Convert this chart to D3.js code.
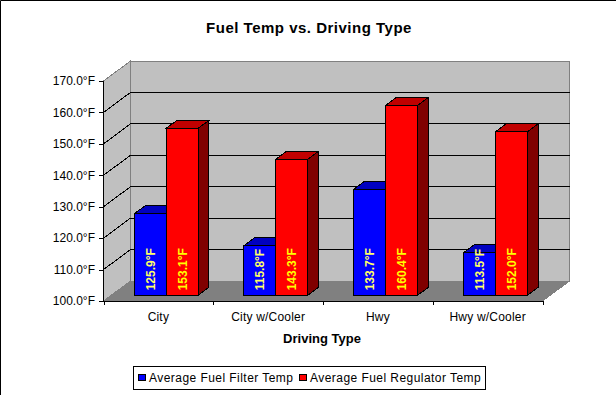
<!DOCTYPE html>
<html>
<head>
<meta charset="utf-8">
<script src="https://cdnjs.cloudflare.com/ajax/libs/d3/7.8.5/d3.min.js"></script>
<style>
html,body{margin:0;padding:0;background:#fff;overflow:hidden}
svg{display:block}
text{font-family:"Liberation Sans",Arial,sans-serif;fill:#000}
</style>
</head>
<body>
<script>
const categories = ["City", "City w/Cooler", "Hwy", "Hwy w/Cooler"];
const seriesNames = ["Average Fuel Filter Temp", "Average Fuel Regulator Temp"];
const filterTemp = [125.9, 115.8, 133.7, 113.5];
const regulatorTemp = [153.1, 143.3, 160.4, 152.0];
const tickValues = [100, 110, 120, 130, 140, 150, 160, 170];
const title = "Fuel Temp vs. Driving Type";
const xTitle = "Driving Type";

const W = 616, H = 395;
const svg = d3.select("body").append("svg").attr("width", W).attr("height", H);

svg.append("path").attr("d", `M0.5,${H}V0.5H${W}`).attr("fill", "none").attr("stroke", "#000");

const x0 = d3.scaleBand().domain(categories).range([103.5, 542.5]).paddingInner(0.417).paddingOuter(0.2085);
const x1 = d3.scaleBand().domain([0, 1]).range([0, x0.bandwidth()]);
const y = d3.scaleLinear().domain([100, 170]).range([301, 81]);

// oblique depth: z 0 = front of floor, 1 = back wall
const DX = 27, DY = 20;
const pt = (px, py, z) => [px + DX * z, py - DY * z];
const poly = pts => "M" + pts.map(p => p.join(",")).join("L") + "Z";

const xL = 103.5, xR = 542.5, yB = y(100), yT = y(170);

const walls = svg.append("g").attr("shape-rendering", "crispEdges");
walls.append("path").attr("d", poly([pt(xL, yB, 1), pt(xR, yB, 1), pt(xR, yT, 1), pt(xL, yT, 1)]))
  .attr("fill", "#c0c0c0").attr("stroke", "#808080");
walls.append("path").attr("d", poly([pt(xL, yB, 0), pt(xL, yB, 1), pt(xL, yT, 1), pt(xL, yT, 0)]))
  .attr("fill", "#c0c0c0").attr("stroke", "#808080");
walls.append("path").attr("d", poly([pt(xL, yB, 0), pt(xR, yB, 0), pt(xR, yB, 1), pt(xL, yB, 1)]))
  .attr("fill", "#808080").attr("stroke", "#808080");

// gridlines on side and back walls
const grid = svg.append("g").attr("fill", "none").attr("stroke", "#000").attr("shape-rendering", "crispEdges");
grid.selectAll("path").data(tickValues.slice(1, -1)).join("path")
  .attr("d", v => d3.line()([pt(xL, y(v), 0), pt(xL, y(v), 1), pt(xR, y(v), 1)]));

// axes
const yAxis = d3.axisLeft(y).tickValues(tickValues).tickFormat(v => v.toFixed(1) + "°F").tickSize(4).tickPadding(4);
const gy = svg.append("g").attr("transform", "translate(103,0)").attr("shape-rendering", "crispEdges").call(yAxis);
gy.selectAll("text").attr("font-size", 12).attr("fill", "#000").style("font-family", '"Liberation Sans"');
gy.selectAll(".tick line").attr("stroke", "#000");
gy.select(".domain").attr("stroke", "#000");

const xTicks = d3.scaleLinear().domain([0, categories.length]).range([xL, xR]);
const gxT = svg.append("g").attr("transform", `translate(0,${yB})`).attr("shape-rendering", "crispEdges")
  .call(d3.axisBottom(xTicks).tickValues(d3.range(categories.length + 1)).tickFormat("").tickSize(4).tickSizeOuter(0));
gxT.selectAll("line,path").attr("stroke", "#000");

const gx = svg.append("g").attr("transform", `translate(0,${yB})`)
  .call(d3.axisBottom(x0).tickSize(0).tickPadding(11));
gx.select(".domain").remove();
gx.selectAll("text").attr("font-size", 12).attr("letter-spacing", 0.2).attr("fill", "#000").style("font-family", '"Liberation Sans"');

// bars
const Z0 = 0.285, Z1 = 0.685;
const seriesStyle = [
  {front: "#0000ff", top: "#0000c0", side: "#000080", label: "#ffff66", values: filterTemp},
  {front: "#ff0000", top: "#c00000", side: "#800000", label: "#ffff00", values: regulatorTemp}
];
const bars = svg.append("g").attr("stroke", "#000").attr("stroke-linejoin", "miter").attr("shape-rendering", "crispEdges");
categories.forEach((cat, i) => {
  seriesStyle.forEach((s, k) => {
    const l = x0(cat) + x1(k), r = l + x1.bandwidth(), t = y(s.values[i]), b = yB;
    const g = bars.append("g");
    g.append("path").attr("fill", s.side)
      .attr("d", poly([pt(r, b, Z0), pt(r, b, Z1), pt(r, t, Z1), pt(r, t, Z0)]));
    g.append("path").attr("fill", s.top)
      .attr("d", poly([pt(l, t, Z0), pt(r, t, Z0), pt(r, t, Z1), pt(l, t, Z1)]));
    g.append("path").attr("fill", s.front)
      .attr("d", poly([pt(l, b, Z0), pt(r, b, Z0), pt(r, t, Z0), pt(l, t, Z0)]));
  });
});
// data labels
categories.forEach((cat, i) => {
  seriesStyle.forEach((s, k) => {
    const c = x0(cat) + x1(k) + x1.bandwidth() / 2;
    const [px, py] = pt(c, yB, Z0);
    svg.append("text")
      .attr("transform", `translate(${px + 4.5},${py - 5}) rotate(-90)`)
      .attr("font-size", 12).attr("font-weight", "bold")
      .style("fill", s.label)
      .text(s.values[i].toFixed(1) + "°F");
  });
});

svg.append("text").attr("x", 309).attr("y", 32.5).attr("text-anchor", "middle")
  .attr("font-size", 15).attr("letter-spacing", 0.5).attr("font-weight", "bold").text(title);
svg.append("text").attr("x", 322).attr("y", 342.5).attr("text-anchor", "middle")
  .attr("font-size", 13).attr("font-weight", "bold").text(xTitle);

// legend
const legendX = [138, 299];
const legend = svg.append("g").attr("shape-rendering", "crispEdges");
legend.append("rect").attr("x", 133.5).attr("y", 366.5).attr("width", 352).attr("height", 23)
  .attr("fill", "#fff").attr("stroke", "#000");
seriesNames.forEach((n, k) => {
  legend.append("rect").attr("x", legendX[k] + 0.5).attr("y", 374.5).attr("width", 7).attr("height", 6)
    .attr("fill", seriesStyle[k].front).attr("stroke", "#000");
  legend.append("text").attr("x", legendX[k] + 11).attr("y", 381.5)
    .attr("font-size", 12).attr("letter-spacing", 0.45).text(n);
});
</script>
</body>
</html>
